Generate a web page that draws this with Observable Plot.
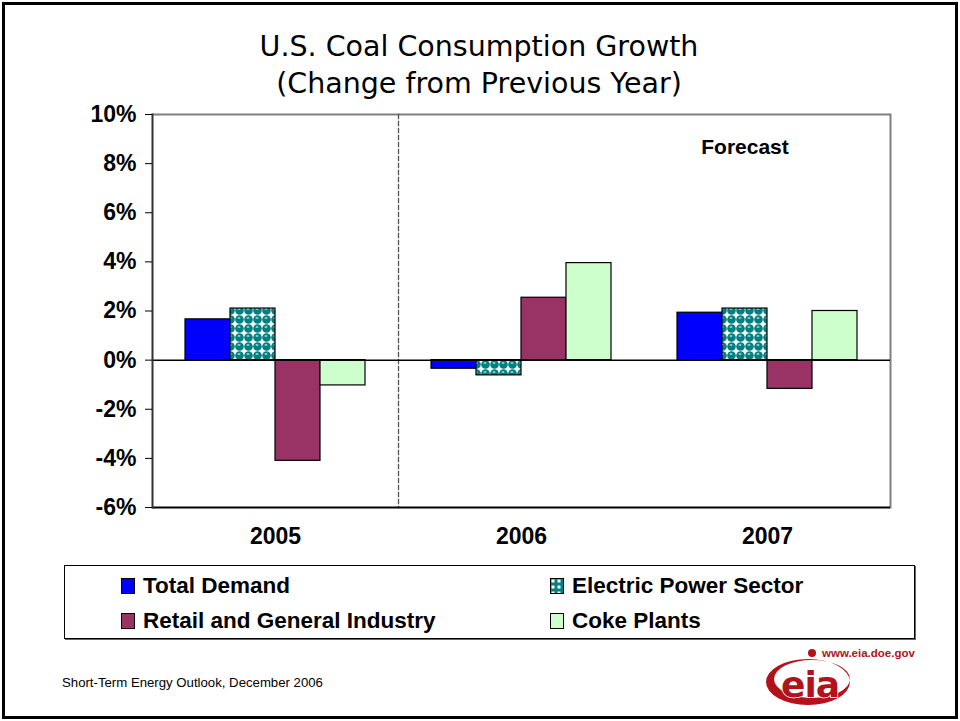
<!DOCTYPE html>
<html>
<head>
<meta charset="utf-8">
<script src="https://cdn.jsdelivr.net/npm/d3@7"></script>
<script src="https://cdn.jsdelivr.net/npm/@observablehq/plot@0.6"></script>
<style>
  html, body { margin: 0; padding: 0; background: #fff; }
  #page { position: relative; width: 960px; height: 721px; overflow: hidden; font-family: "Liberation Sans", Arial, sans-serif; }
  #border { position: absolute; left: 2px; top: 2px; width: 956px; height: 717px; border: 3px solid #000; box-sizing: border-box; }
  #title { position: absolute; left: 0; width: 958px; top: 28px; text-align: center; font-family: "DejaVu Sans", Tahoma, sans-serif; font-size: 28.5px; line-height: 37px; color: #000; }
  #chart { position: absolute; left: 0; top: 0; }
  #legend { position: absolute; left: 64px; top: 565px; width: 851px; height: 74px; border: 1px solid #000; box-shadow: 1px 1px 0 #666; box-sizing: border-box; }
  .li { position: absolute; font-weight: bold; font-size: 22.5px; white-space: nowrap; display: flex; align-items: center; }
  .li svg { margin-right: 8px; }
  #footer { position: absolute; left: 62px; top: 675px; font-size: 13.2px; }
  #logo { position: absolute; left: 760px; top: 640px; }
</style>
</head>
<body>
<div id="page">
  <div id="border"></div>
  <div id="title">U.S. Coal Consumption Growth<br>(Change from Previous Year)</div>
  <div id="chart"></div>
  <div id="legend"></div>
  <div id="footer">Short-Term Energy Outlook, December 2006</div>
  <svg id="logo" width="170" height="72">
    <circle cx="52" cy="13" r="4" fill="#b3121b"/>
    <text x="62" y="17" font-family="Liberation Sans, Arial" font-weight="bold" font-size="11.5" fill="#b3121b">www.eia.doe.gov</text>
    <path fill="#b3121b" fill-rule="evenodd" d="M6,42 a42,23 0 1,0 84,0 a42,23 0 1,0 -84,0 Z M14,39 a38,19 0 1,0 76,0 a38,19 0 1,0 -76,0 Z"/>
    <text x="50" y="57" text-anchor="middle" font-family="DejaVu Sans, sans-serif" font-weight="bold" font-size="36" fill="#b3121b" stroke="#fff" stroke-width="1.5" paint-order="stroke" letter-spacing="-1">eia</text>
  </svg>
</div>
<script>
const years = ["2005", "2006", "2007"];
const seriesNames = ["Total Demand", "Electric Power Sector", "Retail and General Industry", "Coke Plants"];
const totalDemand = [1.66, -0.35, 1.93];
const electricPower = [2.1, -0.62, 2.1];
const retailIndustry = [-4.1, 2.54, -1.17];
const cokePlants = [-1.03, 3.95, 2.0];
const yTicks = [-6, -4, -2, 0, 2, 4, 6, 8, 10];
const seriesColors = ["#0000ff", "url(#elecPat)", "#993366", "#ccffcc"];
const forecastNote = [{year: "2007", series: "Electric Power Sector", value: 8.65, text: "Forecast"}];

const seriesValues = [totalDemand, electricPower, retailIndustry, cokePlants];
const rows = [];
years.forEach((yr, i) => seriesNames.forEach((s, j) => rows.push({year: yr, series: s, value: seriesValues[j][i]})));

const font = "Liberation Sans, Arial, sans-serif";
const chart = Plot.plot({
  width: 960,
  height: 560,
  marginLeft: 151,
  marginRight: 69,
  marginTop: 114,
  marginBottom: 53,
  style: {fontFamily: font, color: "#000", background: "transparent"},
  fx: {domain: years, padding: 0, label: null},
  x: {domain: seriesNames, paddingInner: 0, paddingOuter: 0.73, axis: null},
  y: {domain: [-6, 10], label: null},
  color: {type: "ordinal", domain: seriesNames, range: seriesColors},
  marks: [
    Plot.ruleY([10], {stroke: "#808080", strokeWidth: 2}),
    Plot.frame({anchor: "right", facetAnchor: "left", stroke: "#555", strokeWidth: 1.3, strokeDasharray: "4,3"}),
    Plot.frame({anchor: "right", facetAnchor: "right", stroke: "#808080", strokeWidth: 2}),
    Plot.barY(rows, {fx: "year", x: "series", y: "value", fill: "series", stroke: "#000", strokeWidth: 1.2}),
    Plot.ruleY([0], {stroke: "#000", strokeWidth: 1.5}),
    Plot.ruleY([-6], {stroke: "#000", strokeWidth: 2}),
    Plot.frame({anchor: "left", facetAnchor: "left", stroke: "#333", strokeWidth: 2}),
    Plot.axisY({ticks: yTicks, tickFormat: d => d + "%", tickSize: 7, tickPadding: 9, fontSize: 23, fontWeight: "bold", label: null}),
    Plot.axisFx({anchor: "bottom", tickSize: 0, tickPadding: 20, fontSize: 23, fontWeight: "bold", label: null}),
    Plot.text(forecastNote, {fx: "year", x: "series", y: "value", text: "text", fontSize: 21, fontWeight: "bold"})
  ]
});

// pattern definition for the Electric Power Sector fill
function addPattern(svg, id) {
  const ns = "http://www.w3.org/2000/svg";
  const defs = document.createElementNS(ns, "defs");
  defs.innerHTML = `<pattern id="${id}" width="9" height="9" patternUnits="userSpaceOnUse">
      <rect width="9" height="9" fill="#ffffff"/>
      <circle cx="4.5" cy="4.5" r="4.3" fill="#008080"/>
      <ellipse cx="4" cy="3" rx="1.6" ry="0.7" fill="#bfe8e8"/>
    </pattern>`;
  svg.insertBefore(defs, svg.firstChild);
}
addPattern(chart, "elecPat");
document.getElementById("chart").appendChild(chart);

// legend
const legend = document.getElementById("legend");
const legendPos = [[56, 7], [485, 7], [56, 42], [485, 42]];
seriesNames.forEach((s, i) => {
  const div = document.createElement("div");
  div.className = "li";
  div.style.left = legendPos[i][0] + "px";
  div.style.top = legendPos[i][1] + "px";
  const pid = "legPat" + i;
  const fill = i === 1 ? `url(#${pid})` : seriesColors[i];
  div.innerHTML = `<svg width="14" height="16"><defs><pattern id="${pid}" width="6" height="6" patternUnits="userSpaceOnUse"><rect width="6" height="6" fill="#008080"/><rect x="1.5" y="1.5" width="3" height="3" fill="#fff"/></pattern></defs><rect x="0.5" y="0.5" width="13" height="15" fill="${fill}" stroke="#000"/></svg><span>${s}</span>`;
  legend.appendChild(div);
});
</script>
</body>
</html>
